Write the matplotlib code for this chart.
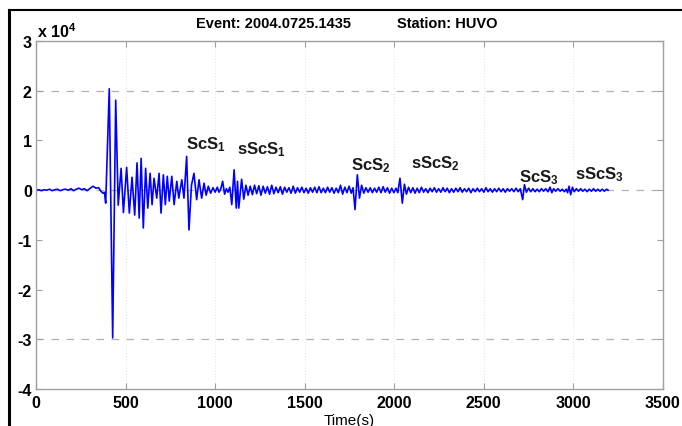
import matplotlib
matplotlib.use("Agg")
import matplotlib.pyplot as plt
from matplotlib.lines import Line2D

plt.rcParams['font.family'] = ['Liberation Sans', 'DejaVu Sans']
plt.rcParams['mathtext.default'] = 'regular'

# sismograma: (tempo em s, amplitude em unidades de 10^4)
quiet_start = [(0, 0.0), (15, 0.01), (30, -0.01), (45, 0.01), (60, 0.0), (75, 0.02), (90, -0.01),
               (105, 0.01), (120, 0.02), (135, -0.01), (150, 0.01), (165, 0.02), (180, 0.0),
               (195, 0.03), (210, -0.01), (225, 0.02), (240, 0.04), (255, 0.01), (270, 0.03),
               (285, -0.01), (300, 0.03), (318, 0.08), (335, 0.04), (350, 0.05), (362, -0.02),
               (374, -0.06), (382, -0.04), (389, -0.26)]

s_wave = [(409, 2.04), (428, -2.97), (445, 1.81), (459, -0.30), (475, 0.44), (488, -0.45),
          (506, 0.46), (521, -0.46), (536, 0.26), (551, -0.50), (564, 0.55), (576, -0.56),
          (587, 0.64), (599, -0.76), (612, 0.44), (624, -0.36), (637, 0.34), (648, -0.29),
          (659, 0.24), (674, -0.16), (687, 0.34), (698, -0.46), (711, 0.31), (722, -0.29),
          (733, 0.28), (744, -0.22), (758, 0.28), (771, -0.29), (786, 0.18), (797, -0.16),
          (814, 0.21), (826, -0.16)]

scs1 = [(841, 0.68), (854, -0.80), (868, 0.10), (882, 0.34), (897, -0.19), (910, 0.21),
        (925, -0.16), (938, 0.14), (950, -0.10), (962, 0.08), (975, -0.06), (988, 0.05),
        (1000, -0.04), (1012, 0.06), (1022, -0.04), (1032, 0.03), (1042, 0.18), (1053, -0.08),
        (1063, 0.03), (1072, -0.04), (1082, 0.06)]

sscs1 = [(1093, -0.29), (1106, 0.41), (1118, -0.36), (1125, 0.18), (1132, -0.36), (1148, 0.22),
         (1160, -0.18), (1172, 0.10), (1184, -0.10)]

coda1 = [(1196, 0.08), (1208, -0.09), (1220, 0.10), (1232, -0.07), (1244, 0.09), (1256, -0.10),
         (1268, 0.08), (1280, -0.06), (1292, 0.07), (1304, -0.08), (1316, 0.10), (1328, -0.07),
         (1340, 0.06), (1352, -0.05), (1364, 0.07), (1376, -0.08), (1388, 0.06), (1400, -0.04),
         (1412, 0.05), (1424, -0.06), (1436, 0.08), (1448, -0.06), (1460, 0.05), (1472, -0.04),
         (1484, 0.06), (1496, -0.05), (1508, 0.04), (1520, -0.06), (1532, 0.05), (1544, -0.04),
         (1556, 0.06), (1568, -0.05), (1580, 0.07), (1592, -0.05), (1604, 0.04), (1616, -0.05),
         (1628, 0.06), (1640, -0.04), (1652, 0.05), (1664, -0.06), (1676, 0.04), (1688, -0.05),
         (1700, 0.10), (1712, -0.08), (1724, 0.06), (1736, -0.05), (1748, 0.08), (1760, -0.06)]

scs2 = [(1770, 0.05), (1781, -0.39), (1794, 0.31), (1806, -0.16), (1818, 0.10), (1830, -0.06),
        (1842, 0.05), (1854, -0.04), (1866, 0.05), (1878, -0.05), (1890, 0.04), (1902, -0.04),
        (1914, 0.06), (1926, -0.05), (1938, 0.07), (1950, -0.04), (1962, 0.05), (1974, -0.06),
        (1986, 0.04), (1998, -0.05), (2010, 0.04), (2020, -0.05)]

sscs2 = [(2032, 0.24), (2045, -0.26), (2057, 0.12), (2068, -0.08), (2080, 0.06), (2092, -0.05)]

coda2 = [(2104, 0.05), (2116, -0.06), (2128, 0.04), (2140, -0.05), (2152, 0.06), (2164, -0.04),
         (2176, 0.03), (2188, -0.05), (2200, 0.04), (2212, -0.03), (2224, 0.05), (2236, -0.04),
         (2248, 0.03), (2260, -0.04), (2272, 0.05), (2284, -0.03), (2296, 0.04), (2308, -0.05),
         (2320, 0.03), (2332, -0.04), (2344, 0.04), (2356, -0.03), (2368, 0.05), (2380, -0.04),
         (2392, 0.03), (2404, -0.03), (2416, 0.04), (2428, -0.05), (2440, 0.03), (2452, -0.03),
         (2464, 0.04), (2476, -0.03), (2488, 0.03), (2500, -0.04), (2512, 0.05), (2524, -0.03),
         (2536, 0.03), (2548, -0.04), (2560, 0.03), (2572, -0.03), (2584, 0.04), (2596, -0.03),
         (2608, 0.03), (2620, -0.04), (2632, 0.03), (2644, -0.02), (2656, 0.03), (2668, -0.03),
         (2680, 0.04), (2692, -0.03)]

scs3 = [(2704, 0.03), (2717, -0.19), (2727, 0.11), (2738, -0.04), (2750, 0.04), (2762, -0.03),
        (2774, 0.03), (2786, -0.03), (2798, 0.02), (2810, -0.03), (2822, 0.03), (2834, -0.02),
        (2846, 0.03), (2858, -0.03), (2870, 0.06), (2880, -0.05), (2890, 0.03), (2902, -0.02),
        (2914, 0.03), (2926, -0.02), (2938, 0.02), (2950, -0.03), (2960, 0.02)]

sscs3 = [(2968, -0.05), (2976, 0.08), (2985, -0.09), (2995, 0.06), (3005, -0.03), (3017, 0.03),
         (3029, -0.02), (3041, 0.03), (3053, -0.02), (3065, 0.02), (3077, -0.03), (3089, 0.02),
         (3101, -0.02), (3113, 0.03), (3125, -0.02), (3137, 0.02), (3149, -0.02), (3161, 0.02),
         (3173, -0.02), (3185, 0.02), (3194, 0.0)]

# rotulos das fases: (texto, tempo, amplitude da base do texto)
fases = [("ScS$_1$", 837, 0.84), ("sScS$_1$", 1122, 0.74), ("ScS$_2$", 1759, 0.43),
         ("sScS$_2$", 2094, 0.47), ("ScS$_3$", 2697, 0.18), ("sScS$_3$", 3010, 0.24)]

grade_y = [2, 0, -3]
xticks = [0, 500, 1000, 1500, 2000, 2500, 3000, 3500]
yticks = [-4, -3, -2, -1, 0, 1, 2, 3]

traco = quiet_start + s_wave + scs1 + sscs1 + coda1 + scs2 + sscs2 + coda2 + scs3 + sscs3
tempo = [p[0] for p in traco]
amp = [p[1] for p in traco]

fig = plt.figure(figsize=(6.82, 4.27), dpi=100)
ax = fig.add_axes([0.0528, 0.0865, 0.9192, 0.8150])

for g in grade_y:
    ax.axhline(g, color='#b0b0b0', linestyle=(0, (6, 6)), linewidth=0.9, zorder=0)
for xt in xticks[1:-1]:
    ax.axvline(xt, color='#e6e6e6', linestyle=':', linewidth=0.8, zorder=0)

ax.plot(tempo, amp, color='#0000ff', linewidth=1.2, zorder=2)

for texto, t, a in fases:
    ax.text(t, a, texto, fontsize=12, fontweight='bold', ha='left', va='baseline', color='#1a1a1a')

ax.set_xlim(0, 3500)
ax.set_ylim(-4, 3)
ax.set_xticks(xticks)
ax.set_yticks(yticks)
ax.set_xticklabels([str(v) for v in xticks], fontweight='bold', fontsize=11.5)
ax.set_yticklabels([str(v) for v in yticks], fontweight='bold', fontsize=11.5)
ax.tick_params(direction='in', top=True, right=True, length=4, width=0.8, color='#a0a0a0')
ax.tick_params(axis='x', pad=4)
ax.tick_params(axis='y', pad=3)
for s in ax.spines.values():
    s.set_color('#a0a0a0')
    s.set_linewidth(1.0)

ax.set_xlabel("Time(s)", fontsize=11)
ax.xaxis.set_label_coords(0.5, -0.07)

ax.text(0.002, 1.011, "x 10$^{4}$", transform=ax.transAxes, fontsize=11.5, fontweight='bold',
        ha='left', va='baseline')

fig.text(196 / 682, 1 - 24 / 427, "Event: 2004.0725.1435", fontsize=10.5, fontweight='bold',
         ha='left', va='center')
fig.text(397 / 682, 1 - 24 / 427, "Station: HUVO", fontsize=10.5, fontweight='bold',
         ha='left', va='center')

# moldura preta da imagem original
fig.add_artist(Line2D([8.5 / 682, 8.5 / 682], [0, 1 - 10.5 / 427], color='black', linewidth=2.2))
fig.add_artist(Line2D([8.5 / 682, 1], [1 - 10.5 / 427, 1 - 10.5 / 427], color='black', linewidth=1.5))

fig.savefig("out.png", dpi=100)
